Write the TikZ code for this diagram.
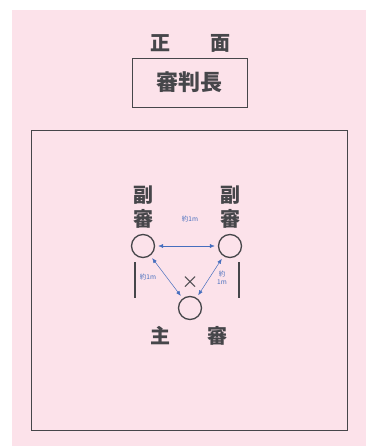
\documentclass[tikz,border=0pt]{standalone}
\usepackage{fontspec}
\usepackage{xcolor}
\newfontfamily\jp{Noto Sans CJK JP}
\usetikzlibrary{
    arrows.meta,
    positioning
}
\definecolor{pinkbg}{RGB}{252,226,234}
\definecolor{inkgray}{RGB}{70,70,74}
\definecolor{distblue}{RGB}{70,110,190}

\begin{document}
\begin{tikzpicture}[x=1pt, y=-1pt,
    ref/.style={draw=inkgray, circle, line width=1.3pt, minimum size=23pt, inner sep=0pt},
    kanji/.style={text=inkgray, font=\jp\bfseries\fontsize{20}{24}\selectfont, inner sep=0pt},
    dist/.style={draw=distblue, line width=0.5pt, {Latex[length=5pt,width=4pt]}-{Latex[length=5pt,width=4pt]}, shorten <=3pt, shorten >=3pt},
    distlabel/.style={text=distblue, font=\jp\fontsize{6.5}{7.5}\selectfont, inner sep=0pt, align=center}
]
        % Page and background
        \useasboundingbox (0,0) rectangle (366,446);
        \fill[pinkbg] (12,10) rectangle (366,446);

        % Front side
        \node[kanji] (front) at (190,43) {正\hspace{2em}面};

        % Chief judge box
        \node[kanji, draw=inkgray, line width=0.9pt, minimum width=115pt, minimum height=49pt,
              font=\jp\bfseries\fontsize{22}{26}\selectfont] (chief) at (189.5,82.5) {審判長};

        % Court
        \node[draw=inkgray, line width=0.9pt, minimum width=316pt, minimum height=300pt, inner sep=0pt] (court) at (189,280) {};

        % Referees
        \node[ref] (lref) at (143,246) {};
        \node[ref] (rref) at (230,246) {};
        \node[ref] (mref) at (190,308) {};

        % Names
        \node[kanji, align=center, above=5pt of lref] (lname) {副\\審};
        \node[kanji, align=center, above=5pt of rref] (rname) {副\\審};
        \node[kanji, below=6pt of mref, xshift=-1.5pt] (mname) {主\hspace{1.85em}審};

        % Flags
        \draw[inkgray, line width=2.6pt] (135,262) -- (135,298);
        \draw[inkgray, line width=2.6pt] (239,262) -- (239,298);

        % Cross
        \node[text=inkgray, font=\jp\fontsize{17}{17}\selectfont, inner sep=0pt] (cross) at (190,283) {×};

        % Distances
        \draw[dist] (lref) -- (rref);
        \draw[dist] (lref) -- (mref);
        \draw[dist] (rref) -- (mref);
        \node[distlabel] (dtop) at (190,219) {約1m};
        \node[distlabel] (dleft) at (148,277) {約1m};
        \node[distlabel] (dright) at (222,278) {約\\1m};
    \end{tikzpicture}
\end{document}
